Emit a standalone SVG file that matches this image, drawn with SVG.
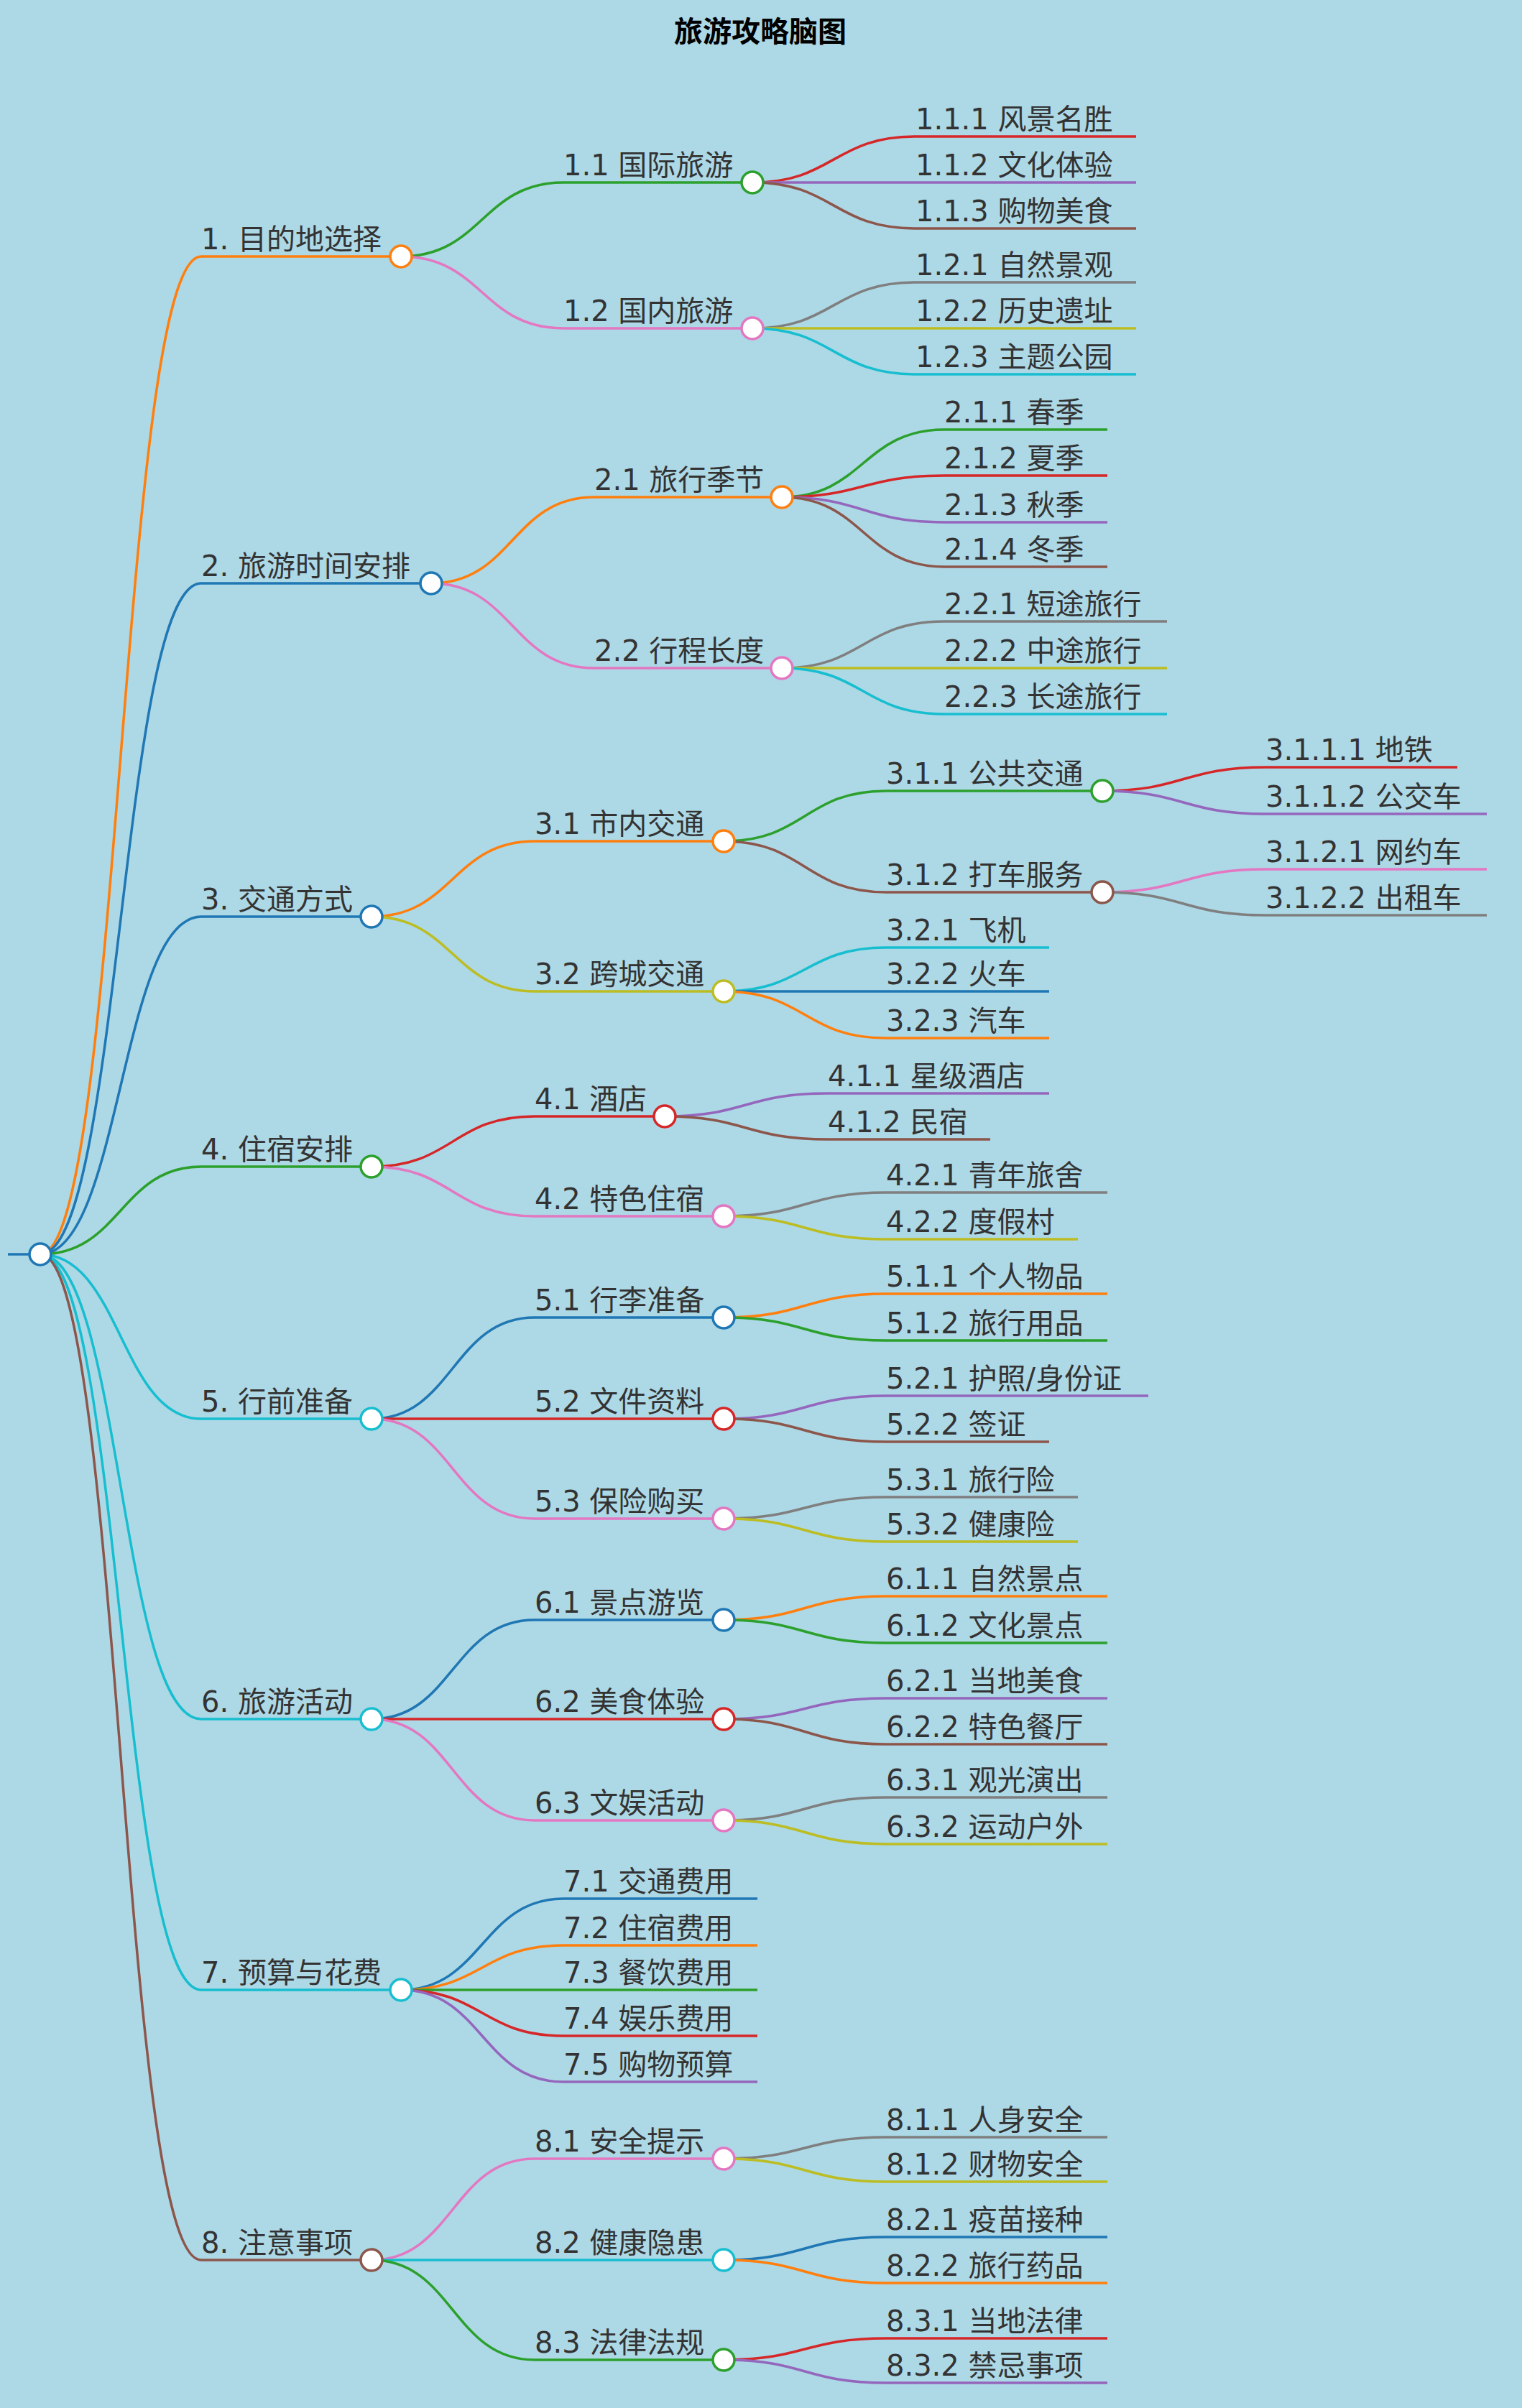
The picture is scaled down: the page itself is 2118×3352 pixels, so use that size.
<svg xmlns="http://www.w3.org/2000/svg" width="2118" height="3352" viewBox="0 0 2118 3352">
<style>
text{font-family:"DejaVu Sans","Noto Sans CJK SC",sans-serif;font-size:40px;fill:#333}
.t{font-weight:bold;fill:#000;font-size:40px}
path,line{fill:none;stroke-width:3.5}
circle{fill:#fff;stroke-width:3.5}
.o{stroke:#ff7f0e}.b{stroke:#1f77b4}.g{stroke:#2ca02c}.r{stroke:#d62728}.p{stroke:#9467bd}.br{stroke:#8c564b}.pk{stroke:#e377c2}.gy{stroke:#7f7f7f}.ol{stroke:#bcbd22}.c{stroke:#17becf}
</style>
<rect width="2118" height="3352" fill="#add8e6"/>
<text class="t" x="1058" y="58" text-anchor="middle">旅游攻略脑图</text>
<g id="connectors">
<line class="b" x1="11" y1="1746" x2="56" y2="1746"/>
<path class="o" d="M56,1746 C168,1746 168,357 280,357"/>
<path class="b" d="M56,1746 C168,1746 168,812 280,812"/>
<path class="b" d="M56,1746 C168,1746 168,1276 280,1276"/>
<path class="g" d="M56,1746 C168,1746 168,1624 280,1624"/>
<path class="c" d="M56,1746 C168,1746 168,1975 280,1975"/>
<path class="c" d="M56,1746 C168,1746 168,2393 280,2393"/>
<path class="c" d="M56,1746 C168,1746 168,2770 280,2770"/>
<path class="br" d="M56,1746 C168,1746 168,3146 280,3146"/>
<path class="g" d="M558,357 C671,357 671,254 784,254"/>
<path class="pk" d="M558,357 C671,357 671,457 784,457"/>
<path class="o" d="M600,812 C713,812 713,692 827,692"/>
<path class="pk" d="M600,812 C713,812 713,930 827,930"/>
<path class="o" d="M517,1276 C630,1276 630,1171 744,1171"/>
<path class="ol" d="M517,1276 C630,1276 630,1380 744,1380"/>
<path class="r" d="M517,1624 C630,1624 630,1554 744,1554"/>
<path class="pk" d="M517,1624 C630,1624 630,1693 744,1693"/>
<path class="b" d="M517,1975 C630,1975 630,1834 744,1834"/>
<path class="r" d="M517,1975 C630,1975 630,1975 744,1975"/>
<path class="pk" d="M517,1975 C630,1975 630,2114 744,2114"/>
<path class="b" d="M517,2393 C630,2393 630,2255 744,2255"/>
<path class="r" d="M517,2393 C630,2393 630,2393 744,2393"/>
<path class="pk" d="M517,2393 C630,2393 630,2534 744,2534"/>
<path class="b" d="M558,2770 C671,2770 671,2643 784,2643"/>
<path class="o" d="M558,2770 C671,2770 671,2708 784,2708"/>
<path class="g" d="M558,2770 C671,2770 671,2770 784,2770"/>
<path class="r" d="M558,2770 C671,2770 671,2834 784,2834"/>
<path class="p" d="M558,2770 C671,2770 671,2898 784,2898"/>
<path class="pk" d="M517,3146 C630,3146 630,3005 744,3005"/>
<path class="c" d="M517,3146 C630,3146 630,3146 744,3146"/>
<path class="g" d="M517,3146 C630,3146 630,3285 744,3285"/>
<path class="r" d="M1047,254 C1160,254 1160,190 1274,190"/>
<path class="p" d="M1047,254 C1160,254 1160,254 1274,254"/>
<path class="br" d="M1047,254 C1160,254 1160,318 1274,318"/>
<path class="gy" d="M1047,457 C1160,457 1160,393 1274,393"/>
<path class="ol" d="M1047,457 C1160,457 1160,457 1274,457"/>
<path class="c" d="M1047,457 C1160,457 1160,521 1274,521"/>
<path class="g" d="M1088,692 C1201,692 1201,598 1314,598"/>
<path class="r" d="M1088,692 C1201,692 1201,662 1314,662"/>
<path class="p" d="M1088,692 C1201,692 1201,727 1314,727"/>
<path class="br" d="M1088,692 C1201,692 1201,789 1314,789"/>
<path class="gy" d="M1088,930 C1201,930 1201,865 1314,865"/>
<path class="ol" d="M1088,930 C1201,930 1201,930 1314,930"/>
<path class="c" d="M1088,930 C1201,930 1201,994 1314,994"/>
<path class="g" d="M1007,1171 C1120,1171 1120,1101 1233,1101"/>
<path class="br" d="M1007,1171 C1120,1171 1120,1242 1233,1242"/>
<path class="c" d="M1007,1380 C1120,1380 1120,1319 1233,1319"/>
<path class="b" d="M1007,1380 C1120,1380 1120,1380 1233,1380"/>
<path class="o" d="M1007,1380 C1120,1380 1120,1445 1233,1445"/>
<path class="p" d="M925,1554 C1038,1554 1038,1522 1152,1522"/>
<path class="br" d="M925,1554 C1038,1554 1038,1586 1152,1586"/>
<path class="gy" d="M1007,1693 C1120,1693 1120,1660 1233,1660"/>
<path class="ol" d="M1007,1693 C1120,1693 1120,1725 1233,1725"/>
<path class="o" d="M1007,1834 C1120,1834 1120,1801 1233,1801"/>
<path class="g" d="M1007,1834 C1120,1834 1120,1866 1233,1866"/>
<path class="p" d="M1007,1975 C1120,1975 1120,1943 1233,1943"/>
<path class="br" d="M1007,1975 C1120,1975 1120,2007 1233,2007"/>
<path class="gy" d="M1007,2114 C1120,2114 1120,2084 1233,2084"/>
<path class="ol" d="M1007,2114 C1120,2114 1120,2146 1233,2146"/>
<path class="o" d="M1007,2255 C1120,2255 1120,2222 1233,2222"/>
<path class="g" d="M1007,2255 C1120,2255 1120,2287 1233,2287"/>
<path class="p" d="M1007,2393 C1120,2393 1120,2364 1233,2364"/>
<path class="br" d="M1007,2393 C1120,2393 1120,2428 1233,2428"/>
<path class="gy" d="M1007,2534 C1120,2534 1120,2502 1233,2502"/>
<path class="ol" d="M1007,2534 C1120,2534 1120,2567 1233,2567"/>
<path class="gy" d="M1007,3005 C1120,3005 1120,2975 1233,2975"/>
<path class="ol" d="M1007,3005 C1120,3005 1120,3037 1233,3037"/>
<path class="b" d="M1007,3146 C1120,3146 1120,3114 1233,3114"/>
<path class="o" d="M1007,3146 C1120,3146 1120,3178 1233,3178"/>
<path class="r" d="M1007,3285 C1120,3285 1120,3255 1233,3255"/>
<path class="p" d="M1007,3285 C1120,3285 1120,3317 1233,3317"/>
<path class="r" d="M1534,1101 C1647,1101 1647,1068 1761,1068"/>
<path class="p" d="M1534,1101 C1647,1101 1647,1133 1761,1133"/>
<path class="pk" d="M1534,1242 C1647,1242 1647,1210 1761,1210"/>
<path class="gy" d="M1534,1242 C1647,1242 1647,1274 1761,1274"/>
</g>
<g id="root"><circle class="b" cx="56" cy="1746" r="15"/></g>
<g id="n1"><text x="280" y="347">1. 目的地选择</text><line class="o" x1="280" y1="357" x2="558" y2="357"/><circle class="o" cx="558" cy="357" r="15"/></g>
<g id="n2"><text x="280" y="802">2. 旅游时间安排</text><line class="b" x1="280" y1="812" x2="600" y2="812"/><circle class="b" cx="600" cy="812" r="15"/></g>
<g id="n3"><text x="280" y="1266">3. 交通方式</text><line class="b" x1="280" y1="1276" x2="517" y2="1276"/><circle class="b" cx="517" cy="1276" r="15"/></g>
<g id="n4"><text x="280" y="1614">4. 住宿安排</text><line class="g" x1="280" y1="1624" x2="517" y2="1624"/><circle class="g" cx="517" cy="1624" r="15"/></g>
<g id="n5"><text x="280" y="1965">5. 行前准备</text><line class="c" x1="280" y1="1975" x2="517" y2="1975"/><circle class="c" cx="517" cy="1975" r="15"/></g>
<g id="n6"><text x="280" y="2383">6. 旅游活动</text><line class="c" x1="280" y1="2393" x2="517" y2="2393"/><circle class="c" cx="517" cy="2393" r="15"/></g>
<g id="n7"><text x="280" y="2760">7. 预算与花费</text><line class="c" x1="280" y1="2770" x2="558" y2="2770"/><circle class="c" cx="558" cy="2770" r="15"/></g>
<g id="n8"><text x="280" y="3136">8. 注意事项</text><line class="br" x1="280" y1="3146" x2="517" y2="3146"/><circle class="br" cx="517" cy="3146" r="15"/></g>
<g id="n1-1"><text x="784" y="244">1.1 国际旅游</text><line class="g" x1="784" y1="254" x2="1047" y2="254"/><circle class="g" cx="1047" cy="254" r="15"/></g>
<g id="n1-2"><text x="784" y="447">1.2 国内旅游</text><line class="pk" x1="784" y1="457" x2="1047" y2="457"/><circle class="pk" cx="1047" cy="457" r="15"/></g>
<g id="n2-1"><text x="827" y="682">2.1 旅行季节</text><line class="o" x1="827" y1="692" x2="1088" y2="692"/><circle class="o" cx="1088" cy="692" r="15"/></g>
<g id="n2-2"><text x="827" y="920">2.2 行程长度</text><line class="pk" x1="827" y1="930" x2="1088" y2="930"/><circle class="pk" cx="1088" cy="930" r="15"/></g>
<g id="n3-1"><text x="744" y="1161">3.1 市内交通</text><line class="o" x1="744" y1="1171" x2="1007" y2="1171"/><circle class="o" cx="1007" cy="1171" r="15"/></g>
<g id="n3-2"><text x="744" y="1370">3.2 跨城交通</text><line class="ol" x1="744" y1="1380" x2="1007" y2="1380"/><circle class="ol" cx="1007" cy="1380" r="15"/></g>
<g id="n4-1"><text x="744" y="1544">4.1 酒店</text><line class="r" x1="744" y1="1554" x2="925" y2="1554"/><circle class="r" cx="925" cy="1554" r="15"/></g>
<g id="n4-2"><text x="744" y="1683">4.2 特色住宿</text><line class="pk" x1="744" y1="1693" x2="1007" y2="1693"/><circle class="pk" cx="1007" cy="1693" r="15"/></g>
<g id="n5-1"><text x="744" y="1824">5.1 行李准备</text><line class="b" x1="744" y1="1834" x2="1007" y2="1834"/><circle class="b" cx="1007" cy="1834" r="15"/></g>
<g id="n5-2"><text x="744" y="1965">5.2 文件资料</text><line class="r" x1="744" y1="1975" x2="1007" y2="1975"/><circle class="r" cx="1007" cy="1975" r="15"/></g>
<g id="n5-3"><text x="744" y="2104">5.3 保险购买</text><line class="pk" x1="744" y1="2114" x2="1007" y2="2114"/><circle class="pk" cx="1007" cy="2114" r="15"/></g>
<g id="n6-1"><text x="744" y="2245">6.1 景点游览</text><line class="b" x1="744" y1="2255" x2="1007" y2="2255"/><circle class="b" cx="1007" cy="2255" r="15"/></g>
<g id="n6-2"><text x="744" y="2383">6.2 美食体验</text><line class="r" x1="744" y1="2393" x2="1007" y2="2393"/><circle class="r" cx="1007" cy="2393" r="15"/></g>
<g id="n6-3"><text x="744" y="2524">6.3 文娱活动</text><line class="pk" x1="744" y1="2534" x2="1007" y2="2534"/><circle class="pk" cx="1007" cy="2534" r="15"/></g>
<g id="n7-1"><text x="784" y="2633">7.1 交通费用</text><line class="b" x1="784" y1="2643" x2="1054" y2="2643"/></g>
<g id="n7-2"><text x="784" y="2698">7.2 住宿费用</text><line class="o" x1="784" y1="2708" x2="1054" y2="2708"/></g>
<g id="n7-3"><text x="784" y="2760">7.3 餐饮费用</text><line class="g" x1="784" y1="2770" x2="1054" y2="2770"/></g>
<g id="n7-4"><text x="784" y="2824">7.4 娱乐费用</text><line class="r" x1="784" y1="2834" x2="1054" y2="2834"/></g>
<g id="n7-5"><text x="784" y="2888">7.5 购物预算</text><line class="p" x1="784" y1="2898" x2="1054" y2="2898"/></g>
<g id="n8-1"><text x="744" y="2995">8.1 安全提示</text><line class="pk" x1="744" y1="3005" x2="1007" y2="3005"/><circle class="pk" cx="1007" cy="3005" r="15"/></g>
<g id="n8-2"><text x="744" y="3136">8.2 健康隐患</text><line class="c" x1="744" y1="3146" x2="1007" y2="3146"/><circle class="c" cx="1007" cy="3146" r="15"/></g>
<g id="n8-3"><text x="744" y="3275">8.3 法律法规</text><line class="g" x1="744" y1="3285" x2="1007" y2="3285"/><circle class="g" cx="1007" cy="3285" r="15"/></g>
<g id="n1-1-1"><text x="1274" y="180">1.1.1 风景名胜</text><line class="r" x1="1274" y1="190" x2="1581" y2="190"/></g>
<g id="n1-1-2"><text x="1274" y="244">1.1.2 文化体验</text><line class="p" x1="1274" y1="254" x2="1581" y2="254"/></g>
<g id="n1-1-3"><text x="1274" y="308">1.1.3 购物美食</text><line class="br" x1="1274" y1="318" x2="1581" y2="318"/></g>
<g id="n1-2-1"><text x="1274" y="383">1.2.1 自然景观</text><line class="gy" x1="1274" y1="393" x2="1581" y2="393"/></g>
<g id="n1-2-2"><text x="1274" y="447">1.2.2 历史遗址</text><line class="ol" x1="1274" y1="457" x2="1581" y2="457"/></g>
<g id="n1-2-3"><text x="1274" y="511">1.2.3 主题公园</text><line class="c" x1="1274" y1="521" x2="1581" y2="521"/></g>
<g id="n2-1-1"><text x="1314" y="588">2.1.1 春季</text><line class="g" x1="1314" y1="598" x2="1541" y2="598"/></g>
<g id="n2-1-2"><text x="1314" y="652">2.1.2 夏季</text><line class="r" x1="1314" y1="662" x2="1541" y2="662"/></g>
<g id="n2-1-3"><text x="1314" y="717">2.1.3 秋季</text><line class="p" x1="1314" y1="727" x2="1541" y2="727"/></g>
<g id="n2-1-4"><text x="1314" y="779">2.1.4 冬季</text><line class="br" x1="1314" y1="789" x2="1541" y2="789"/></g>
<g id="n2-2-1"><text x="1314" y="855">2.2.1 短途旅行</text><line class="gy" x1="1314" y1="865" x2="1624" y2="865"/></g>
<g id="n2-2-2"><text x="1314" y="920">2.2.2 中途旅行</text><line class="ol" x1="1314" y1="930" x2="1624" y2="930"/></g>
<g id="n2-2-3"><text x="1314" y="984">2.2.3 长途旅行</text><line class="c" x1="1314" y1="994" x2="1624" y2="994"/></g>
<g id="n3-1-1"><text x="1233" y="1091">3.1.1 公共交通</text><line class="g" x1="1233" y1="1101" x2="1534" y2="1101"/><circle class="g" cx="1534" cy="1101" r="15"/></g>
<g id="n3-1-2"><text x="1233" y="1232">3.1.2 打车服务</text><line class="br" x1="1233" y1="1242" x2="1534" y2="1242"/><circle class="br" cx="1534" cy="1242" r="15"/></g>
<g id="n3-2-1"><text x="1233" y="1309">3.2.1 飞机</text><line class="c" x1="1233" y1="1319" x2="1460" y2="1319"/></g>
<g id="n3-2-2"><text x="1233" y="1370">3.2.2 火车</text><line class="b" x1="1233" y1="1380" x2="1460" y2="1380"/></g>
<g id="n3-2-3"><text x="1233" y="1435">3.2.3 汽车</text><line class="o" x1="1233" y1="1445" x2="1460" y2="1445"/></g>
<g id="n4-1-1"><text x="1152" y="1512">4.1.1 星级酒店</text><line class="p" x1="1152" y1="1522" x2="1460" y2="1522"/></g>
<g id="n4-1-2"><text x="1152" y="1576">4.1.2 民宿</text><line class="br" x1="1152" y1="1586" x2="1378" y2="1586"/></g>
<g id="n4-2-1"><text x="1233" y="1650">4.2.1 青年旅舍</text><line class="gy" x1="1233" y1="1660" x2="1541" y2="1660"/></g>
<g id="n4-2-2"><text x="1233" y="1715">4.2.2 度假村</text><line class="ol" x1="1233" y1="1725" x2="1500" y2="1725"/></g>
<g id="n5-1-1"><text x="1233" y="1791">5.1.1 个人物品</text><line class="o" x1="1233" y1="1801" x2="1541" y2="1801"/></g>
<g id="n5-1-2"><text x="1233" y="1856">5.1.2 旅行用品</text><line class="g" x1="1233" y1="1866" x2="1541" y2="1866"/></g>
<g id="n5-2-1"><text x="1233" y="1933">5.2.1 护照/身份证</text><line class="p" x1="1233" y1="1943" x2="1598" y2="1943"/></g>
<g id="n5-2-2"><text x="1233" y="1997">5.2.2 签证</text><line class="br" x1="1233" y1="2007" x2="1460" y2="2007"/></g>
<g id="n5-3-1"><text x="1233" y="2074">5.3.1 旅行险</text><line class="gy" x1="1233" y1="2084" x2="1500" y2="2084"/></g>
<g id="n5-3-2"><text x="1233" y="2136">5.3.2 健康险</text><line class="ol" x1="1233" y1="2146" x2="1500" y2="2146"/></g>
<g id="n6-1-1"><text x="1233" y="2212">6.1.1 自然景点</text><line class="o" x1="1233" y1="2222" x2="1541" y2="2222"/></g>
<g id="n6-1-2"><text x="1233" y="2277">6.1.2 文化景点</text><line class="g" x1="1233" y1="2287" x2="1541" y2="2287"/></g>
<g id="n6-2-1"><text x="1233" y="2354">6.2.1 当地美食</text><line class="p" x1="1233" y1="2364" x2="1541" y2="2364"/></g>
<g id="n6-2-2"><text x="1233" y="2418">6.2.2 特色餐厅</text><line class="br" x1="1233" y1="2428" x2="1541" y2="2428"/></g>
<g id="n6-3-1"><text x="1233" y="2492">6.3.1 观光演出</text><line class="gy" x1="1233" y1="2502" x2="1541" y2="2502"/></g>
<g id="n6-3-2"><text x="1233" y="2557">6.3.2 运动户外</text><line class="ol" x1="1233" y1="2567" x2="1541" y2="2567"/></g>
<g id="n8-1-1"><text x="1233" y="2965">8.1.1 人身安全</text><line class="gy" x1="1233" y1="2975" x2="1541" y2="2975"/></g>
<g id="n8-1-2"><text x="1233" y="3027">8.1.2 财物安全</text><line class="ol" x1="1233" y1="3037" x2="1541" y2="3037"/></g>
<g id="n8-2-1"><text x="1233" y="3104">8.2.1 疫苗接种</text><line class="b" x1="1233" y1="3114" x2="1541" y2="3114"/></g>
<g id="n8-2-2"><text x="1233" y="3168">8.2.2 旅行药品</text><line class="o" x1="1233" y1="3178" x2="1541" y2="3178"/></g>
<g id="n8-3-1"><text x="1233" y="3245">8.3.1 当地法律</text><line class="r" x1="1233" y1="3255" x2="1541" y2="3255"/></g>
<g id="n8-3-2"><text x="1233" y="3307">8.3.2 禁忌事项</text><line class="p" x1="1233" y1="3317" x2="1541" y2="3317"/></g>
<g id="n3-1-1-1"><text x="1761" y="1058">3.1.1.1 地铁</text><line class="r" x1="1761" y1="1068" x2="2028" y2="1068"/></g>
<g id="n3-1-1-2"><text x="1761" y="1123">3.1.1.2 公交车</text><line class="p" x1="1761" y1="1133" x2="2069" y2="1133"/></g>
<g id="n3-1-2-1"><text x="1761" y="1200">3.1.2.1 网约车</text><line class="pk" x1="1761" y1="1210" x2="2069" y2="1210"/></g>
<g id="n3-1-2-2"><text x="1761" y="1264">3.1.2.2 出租车</text><line class="gy" x1="1761" y1="1274" x2="2069" y2="1274"/></g>
</svg>
